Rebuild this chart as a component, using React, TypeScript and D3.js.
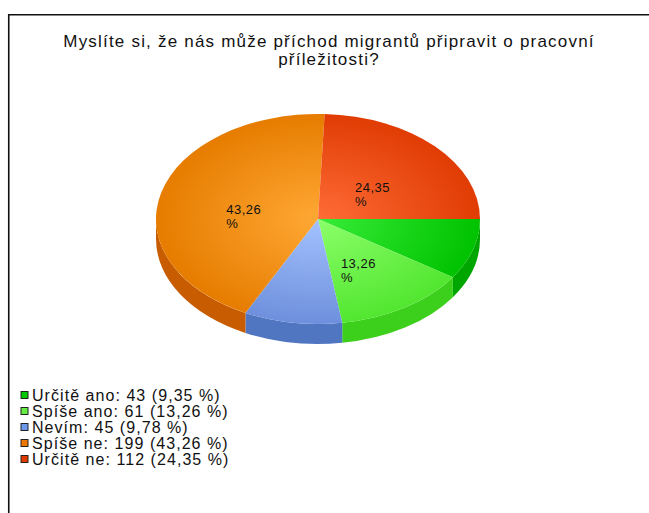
import React from "react";
import * as d3 from "d3";

// answers, counts as printed in the legend
const categories = ["Určitě ano", "Spíše ano", "Nevím", "Spíše ne", "Určitě ne"];
const counts = [43, 61, 45, 199, 112];

// colours: top face (light centre / rim), side wall, legend swatch
const lightColors = ["#38ec38", "#8cff6a", "#a4c2ff", "#ffa834", "#ff6c36"];
const rimColors = ["#00c200", "#52e630", "#6e8fdc", "#e67c00", "#e03c04"];
const wallColors = ["#00a600", "#3cd01c", "#5076c2", "#c85c00", "#b83000"];
const swatchColors = ["#00c800", "#66ee44", "#6c98ee", "#ee7700", "#e03a00"];

const titleLines = [
  "Myslíte si, že nás může příchod migrantů připravit o pracovní",
  "příležitosti?",
];

const W = 649;
const H = 513;
const cx = 318;
const cy = 219;
const rx = 162;
const ry = 105;
const depth = 20;

const FONT = "'Liberation Sans', Arial, sans-serif";

function pt(a: number, dy = 0): [number, number] {
  return [cx + rx * Math.sin(a), cy - ry * Math.cos(a) + dy];
}

export default function App() {
  const total = d3.sum(counts);
  const fmtPct = (v: number) => d3.format(".2f")((v / total) * 100).replace(".", ",");

  // start at 3 o'clock, clockwise
  const arcs = d3
    .pie<number>()
    .sort(null)
    .startAngle(Math.PI / 2)
    .endAngle(Math.PI / 2 + 2 * Math.PI)(counts);

  const topPath = (a0: number, a1: number) => {
    const p0 = pt(a0);
    const p1 = pt(a1);
    const large = a1 - a0 > Math.PI ? 1 : 0;
    return `M${cx},${cy}L${p0[0]},${p0[1]}A${rx},${ry} 0 ${large} 1 ${p1[0]},${p1[1]}Z`;
  };

  const wallPath = (a0: number, a1: number) => {
    const lo = Math.max(a0, Math.PI / 2);
    const hi = Math.min(a1, (3 * Math.PI) / 2);
    if (hi <= lo) return null;
    const p0 = pt(lo);
    const p1 = pt(hi);
    const q1 = pt(hi, depth);
    const q0 = pt(lo, depth);
    return `M${p0[0]},${p0[1]}A${rx},${ry} 0 0 1 ${p1[0]},${p1[1]}L${q1[0]},${q1[1]}A${rx},${ry} 0 0 0 ${q0[0]},${q0[1]}Z`;
  };

  const legendY = d3.scalePoint<number>().domain(d3.range(categories.length)).range([395, 459]);

  return (
    <svg
      width={W}
      height={H}
      style={{ position: "absolute", left: 0, top: 0, background: "#fff" }}
      fontFamily={FONT}
    >
      <defs>
        {arcs.map((a, i) => (
          <radialGradient
            key={i}
            id={`top${i}`}
            gradientUnits="userSpaceOnUse"
            cx={cx}
            cy={cy}
            r={rx}
            gradientTransform={`translate(${cx} ${cy}) scale(1 ${ry / rx}) translate(${-cx} ${-cy})`}
          >
            <stop offset="0" stopColor={lightColors[i]} />
            <stop offset="1" stopColor={rimColors[i]} />
          </radialGradient>
        ))}
      </defs>

      {/* frame */}
      <path d={`M8.75,${H}V14.75H${W}`} fill="none" stroke="#111" strokeWidth={1.6} />

      {/* title */}
      {titleLines.map((t, i) => (
        <text
          key={i}
          x={329}
          y={47 + i * 18}
          textAnchor="middle"
          fontSize={17}
          letterSpacing={1.2}
          fill="#111"
        >
          {t}
        </text>
      ))}

      {/* side walls */}
      {arcs.map((a, i) => {
        const d = wallPath(a.startAngle, a.endAngle);
        return d ? <path key={i} d={d} fill={wallColors[i]} /> : null;
      })}

      {/* top faces */}
      {arcs.map((a, i) => (
        <path key={i} d={topPath(a.startAngle, a.endAngle)} fill={`url(#top${i})`} />
      ))}

      {/* slice labels, only the larger slices */}
      {arcs.map((a, i) => {
        if (a.value / total < 0.1) return null;
        const mid = (a.startAngle + a.endAngle) / 2;
        const [lx, ly] = pt(mid);
        const f = 0.47;
        const x = cx + (lx - cx) * f - 18;
        const y = cy + 10 + (ly - cy) * f;
        return (
          <text key={i} fontSize={13} letterSpacing={0.5} fill="#111">
            <tspan x={x} y={y - 2.5}>
              {fmtPct(a.value)}
            </tspan>
            <tspan x={x} y={y + 11.5}>
              %
            </tspan>
          </text>
        );
      })}

      {/* legend */}
      {categories.map((c, i) => {
        const y = legendY(i) as number;
        return (
          <g key={c}>
            <rect
              x={21}
              y={y - 3.5}
              width={7}
              height={7}
              fill={swatchColors[i]}
              stroke="#222"
              strokeWidth={1}
            />
            <text x={32} y={y + 5.5} fontSize={16} letterSpacing={1.05} fill="#111">
              {`${c}: ${counts[i]} (${fmtPct(counts[i])} %)`}
            </text>
          </g>
        );
      })}
    </svg>
  );
}
